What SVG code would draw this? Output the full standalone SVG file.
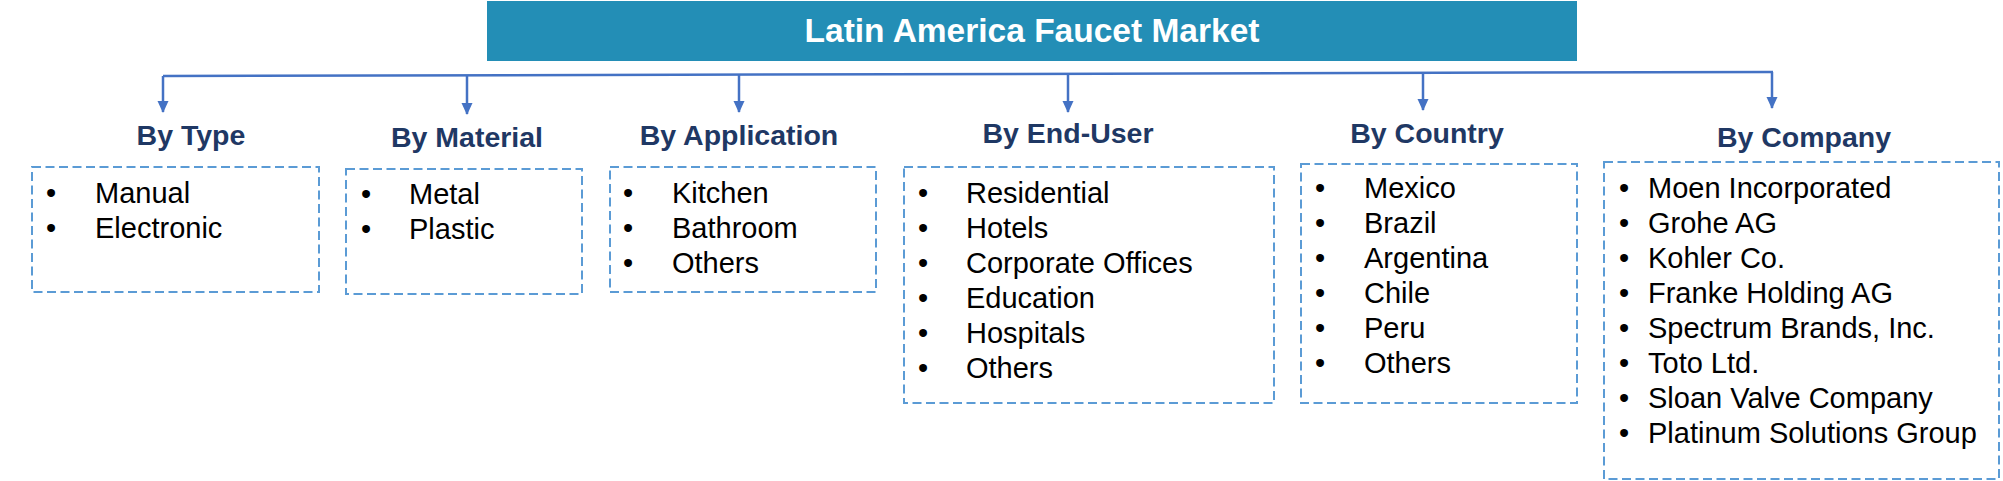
<svg xmlns="http://www.w3.org/2000/svg" width="2003" height="481" viewBox="0 0 2003 481">
<defs>
<marker id="ah" markerWidth="12" markerHeight="12" refX="11" refY="5.5" orient="auto" markerUnits="userSpaceOnUse" viewBox="0 0 12 11">
<path d="M0,0 L12,5.5 L0,11 Z" fill="#4472C4"/>
</marker>
<style>
.title{font-family:"Liberation Sans",Arial,sans-serif;font-weight:bold;font-size:33.5px;fill:#FFFFFF;text-anchor:middle}
.hdr{font-family:"Liberation Sans",Arial,sans-serif;font-weight:bold;font-size:28.5px;fill:#1F3864;text-anchor:middle}
.item{font-family:"Liberation Sans",Arial,sans-serif;font-size:29px;fill:#000000}
.box{fill:#FFFFFF;stroke:#5B9BD5;stroke-width:2;stroke-dasharray:9 4.5}
.conn{fill:none;stroke:#4472C4;stroke-width:2.5}
</style>
</defs>
<rect width="2003" height="481" fill="#FFFFFF"/>
<g id="title">
<rect x="487" y="1" width="1090" height="60" fill="#238EB6"/>
<text class="title" x="1032" y="42">Latin America Faucet Market</text>
</g>
<g id="connectors">
<polyline class="conn" points="163,76 1773,72"/>
<line class="conn" x1="163" y1="76" x2="163" y2="112" marker-end="url(#ah)"/>
<line class="conn" x1="467" y1="75.5" x2="467" y2="114" marker-end="url(#ah)"/>
<line class="conn" x1="739" y1="75" x2="739" y2="112" marker-end="url(#ah)"/>
<line class="conn" x1="1068" y1="74" x2="1068" y2="112" marker-end="url(#ah)"/>
<line class="conn" x1="1423" y1="73" x2="1423" y2="110" marker-end="url(#ah)"/>
<line class="conn" x1="1772" y1="72" x2="1772" y2="108" marker-end="url(#ah)"/>
</g>
<g id="by-type">
<text class="hdr" x="191" y="145">By Type</text>
<rect class="box" x="32" y="167" width="287" height="125"/>
<text class="item" x="46" y="203">•</text><text class="item" x="95" y="203">Manual</text>
<text class="item" x="46" y="238">•</text><text class="item" x="95" y="238">Electronic</text>
</g>
<g id="by-material">
<text class="hdr" x="467" y="147">By Material</text>
<rect class="box" x="346" y="169" width="236" height="125"/>
<text class="item" x="361" y="204">•</text><text class="item" x="409" y="204">Metal</text>
<text class="item" x="361" y="239">•</text><text class="item" x="409" y="239">Plastic</text>
</g>
<g id="by-application">
<text class="hdr" x="739" y="145">By Application</text>
<rect class="box" x="610" y="167" width="266" height="125"/>
<text class="item" x="623" y="203">•</text><text class="item" x="672" y="203">Kitchen</text>
<text class="item" x="623" y="238">•</text><text class="item" x="672" y="238">Bathroom</text>
<text class="item" x="623" y="273">•</text><text class="item" x="672" y="273">Others</text>
</g>
<g id="by-end-user">
<text class="hdr" x="1068" y="143">By End-User</text>
<rect class="box" x="904" y="167" width="370" height="236"/>
<text class="item" x="918" y="203">•</text><text class="item" x="966" y="203">Residential</text>
<text class="item" x="918" y="238">•</text><text class="item" x="966" y="238">Hotels</text>
<text class="item" x="918" y="273">•</text><text class="item" x="966" y="273">Corporate Offices</text>
<text class="item" x="918" y="308">•</text><text class="item" x="966" y="308">Education</text>
<text class="item" x="918" y="343">•</text><text class="item" x="966" y="343">Hospitals</text>
<text class="item" x="918" y="378">•</text><text class="item" x="966" y="378">Others</text>
</g>
<g id="by-country">
<text class="hdr" x="1427" y="143">By Country</text>
<rect class="box" x="1301" y="164" width="276" height="239"/>
<text class="item" x="1315" y="198">•</text><text class="item" x="1364" y="198">Mexico</text>
<text class="item" x="1315" y="233">•</text><text class="item" x="1364" y="233">Brazil</text>
<text class="item" x="1315" y="268">•</text><text class="item" x="1364" y="268">Argentina</text>
<text class="item" x="1315" y="303">•</text><text class="item" x="1364" y="303">Chile</text>
<text class="item" x="1315" y="338">•</text><text class="item" x="1364" y="338">Peru</text>
<text class="item" x="1315" y="373">•</text><text class="item" x="1364" y="373">Others</text>
</g>
<g id="by-company">
<text class="hdr" x="1804" y="147">By Company</text>
<rect class="box" x="1604" y="162" width="395" height="317"/>
<text class="item" x="1619" y="198">•</text><text class="item" x="1648" y="198">Moen Incorporated</text>
<text class="item" x="1619" y="233">•</text><text class="item" x="1648" y="233">Grohe AG</text>
<text class="item" x="1619" y="268">•</text><text class="item" x="1648" y="268">Kohler Co.</text>
<text class="item" x="1619" y="303">•</text><text class="item" x="1648" y="303">Franke Holding AG</text>
<text class="item" x="1619" y="338">•</text><text class="item" x="1648" y="338">Spectrum Brands, Inc.</text>
<text class="item" x="1619" y="373">•</text><text class="item" x="1648" y="373">Toto Ltd.</text>
<text class="item" x="1619" y="408">•</text><text class="item" x="1648" y="408">Sloan Valve Company</text>
<text class="item" x="1619" y="443">•</text><text class="item" x="1648" y="443">Platinum Solutions Group</text>
</g>
</svg>
